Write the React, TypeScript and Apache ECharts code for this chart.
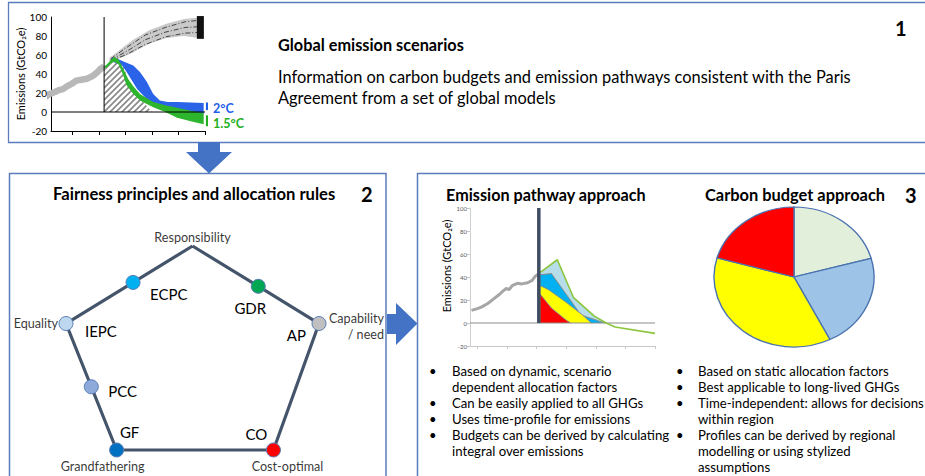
import React, { useEffect, useRef } from 'react';
import * as echarts from 'echarts';

const FONT = "Lato, 'Liberation Sans', sans-serif";

// ---------- Panel 1: global emission scenarios (year, GtCO2e) ----------
const globalHistory = [[1966, 13], [1970, 16], [1973, 19], [1977, 21], [1980, 23], [1983, 24], [1986, 27], [1990, 30], [1993, 33], [1997, 34], [2001, 35], [2004, 37], [2006, 38.5], [2009, 42], [2011, 45], [2014, 48]];
const baselineUpper = [[2018, 57], [2023, 62], [2030, 70], [2036, 76], [2048, 86], [2061, 93], [2074, 98], [2089, 100]];
const baselineLower = [[2018, 53], [2023, 55], [2030, 59], [2036, 63], [2048, 72], [2061, 78], [2074, 80], [2089, 77]];
const baselineRunA = [[2019, 56], [2030, 67], [2045, 81], [2060, 89], [2075, 95], [2089, 97]];
const baselineRunB = [[2019, 55], [2030, 63], [2045, 76], [2060, 84], [2075, 89], [2089, 90]];
const baselineRunC = [[2019, 54], [2030, 60], [2045, 71], [2060, 79], [2075, 83], [2089, 84]];
const baselineRange = [[2086.5, 77], [2086.5, 101]];
const path2CUpper = [[2020, 57], [2024, 56], [2029, 53], [2036, 49], [2041, 42], [2046, 32], [2051, 19], [2056, 12], [2062, 10.5], [2069, 10.5], [2089, 9.5]];
const path2CLower = [[2020, 53], [2027, 50], [2031, 42], [2039, 24], [2046, 14], [2054, 7], [2069, 1.7], [2080, -1], [2089, -2]];
const path15Upper = [[2012, 46], [2016, 50], [2020, 56], [2022, 58], [2025, 55], [2029, 44], [2032, 35], [2036, 27], [2041, 19], [2051, 10.5], [2060, 7], [2069, 4.5], [2080, 1], [2089, -1]];
const path15Lower = [[2012, 43], [2016, 47], [2020, 52], [2022, 53], [2025, 50], [2028, 40], [2031, 28], [2036, 19], [2041, 12], [2051, 5], [2060, 0], [2069, -6], [2080, -10], [2089, -13]];
const range2C = [[2092, 2], [2092, 10]];
const range15C = [[2092, -15], [2092, -3.5]];
const budgetHatch = [[2014, 0], [2014, 47], [2022, 55], [2028, 51], [2034, 26], [2050, 0]];
const todayYear1 = 2014;
const yTicks = { min: -20, max: 100, step: 20 };

// ---------- Panel 3a: emission pathway approach ----------
const pathHistory = [[1976, 11], [1980, 12.5], [1983, 14], [1987, 17], [1991, 21], [1995, 25], [1997, 27.5], [1999.5, 30], [2001.5, 29], [2003.5, 32.5], [2007, 34.5], [2010, 34], [2014, 35], [2017, 37], [2019, 40.5], [2021, 42.5]];
const pathGlobal = [[2022.5, 44], [2034, 55], [2045, 22], [2059, 6], [2067, 0], [2073, -3.5], [2100, -9]];
const pathGlobalPos = [[2022.5, 44], [2034, 55], [2045, 22], [2059, 6], [2067, 0]];
const pathRegionBlue = [[2022.5, 42], [2030, 43], [2040, 25], [2050, 7], [2066, 0]];
const pathRegionYellow = [[2022.5, 32.5], [2028, 29], [2040, 18], [2051, 7], [2057, 0]];
const pathRegionRed = [[2022.5, 25], [2030, 13], [2040, 2.5], [2043, 0]];
const todayYear3 = 2021.5;
const pathTickYears = [1980, 2000, 2020, 2040, 2060, 2080, 2100];
const scenTickYears = [1990, 2010, 2030, 2050, 2070, 2090];

// ---------- Panel 3b: carbon budget approach ----------
const budgetShares = [20.7, 21.9, 36.8, 20.6];
const budgetColors = ['#e2efda', '#9dc3e6', '#ffff00', '#ff0000'];

// ---------- Panel 2: fairness principles ----------
const principles = ['Responsibility', 'Capability\n/ need', 'Cost-optimal', 'Grandfathering', 'Equality'];
const principleXY = [[50, 100], [100, 62], [82, 0], [20, 0], [0, 62]];
const rules = ['ECPC', 'GDR', 'AP', 'CO', 'GF', 'PCC', 'IEPC'];
// [from principle, to principle, fraction along edge]
const ruleEdges = [[4, 0, 0.53], [0, 1, 0.52], [1, 2, 0], [2, 3, 0], [3, 4, 0], [4, 3, 0.5], [4, 0, 0]];

// ---------- texts ----------
const panel1Title = 'Global emission scenarios';
const panel1Text = ['Information on carbon budgets and emission pathways consistent with the Paris', 'Agreement from a set of global models'];
const panel2Title = 'Fairness principles and allocation rules';
const pathwayTitle = 'Emission pathway approach';
const budgetTitle = 'Carbon budget approach';
const yName = 'Emissions (GtCO₂e)';
const pathwayBullets = [
  ['Based on dynamic, scenario', 'dependent allocation factors'],
  ['Can be easily applied to all GHGs'],
  ['Uses time-profile for emissions'],
  ['Budgets can be derived by calculating', 'integral over emissions'],
];
const budgetBullets = [
  ['Based on static allocation factors'],
  ['Best applicable to long-lived GHGs'],
  ['Time-independent: allows for decisions', 'within region'],
  ['Profiles can be derived by regional', 'modelling or using stylized', 'assumptions'],
];

// ---------- styles ----------
const ruleStyle: Record<string, any> = {
  ECPC: { color: '#00b0f0', off: [17, 12], align: 'left' },
  GDR: { color: '#00a651', off: [-8, 22], align: 'center' },
  AP: { color: '#c0c0c0', off: [-13, 11], align: 'right' },
  CO: { color: '#ff0000', off: [-17, -16], align: 'center' },
  GF: { color: '#0070c0', off: [13, -18], align: 'center' },
  PCC: { color: '#8eaadb', off: [17, 4], align: 'left' },
  IEPC: { color: '#bdd7ee', off: [19, 7], align: 'left' },
};
const principleStyle = [
  { off: [0, -9], align: 'center' },
  { off: [65, 3], align: 'right' },
  { off: [14, 16], align: 'center' },
  { off: [-14, 16], align: 'center' },
  { off: [-8, 0], align: 'right' },
];

function hatchPattern() {
  const s = 6;
  const c = document.createElement('canvas');
  c.width = s; c.height = s;
  const g = c.getContext('2d')!;
  g.fillStyle = '#ffffff';
  g.fillRect(0, 0, s, s);
  g.strokeStyle = '#8a8a8a';
  g.lineWidth = 1.7;
  g.beginPath();
  g.moveTo(0, s); g.lineTo(s, 0);
  g.moveTo(-s / 2, s / 2); g.lineTo(s / 2, -s / 2);
  g.moveTo(s / 2, s * 1.5); g.lineTo(s * 1.5, s / 2);
  g.stroke();
  return { image: c, repeat: 'repeat' };
}

function band(upper: number[][], lower: number[][], fill: any, axis: number, z: number) {
  return {
    type: 'custom', coordinateSystem: 'cartesian2d', xAxisIndex: axis, yAxisIndex: axis,
    silent: true, clip: false, z, data: [upper[0]],
    renderItem: (_p: any, api: any) => ({
      type: 'polygon',
      shape: { points: upper.map((p) => api.coord(p)).concat(lower.slice().reverse().map((p) => api.coord(p))) },
      style: { fill, stroke: null },
    }),
  };
}

function line(data: number[][], axis: number, color: string, width: number, z: number, extra: any = {}) {
  return {
    type: 'line', xAxisIndex: axis, yAxisIndex: axis, data, symbol: 'none', silent: true, clip: false, z,
    lineStyle: { color, width, ...(extra.lineStyle || {}) }, ...extra.rest,
  };
}

function buildOption() {
  const ruleXY = ruleEdges.map(([a, b, t]) => {
    const A = principleXY[a], B = principleXY[b];
    return [A[0] + (B[0] - A[0]) * t, A[1] + (B[1] - A[1]) * t];
  });
  const total = budgetShares.reduce((s, v) => s + v, 0);
  const border = '#5b7cbd';
  const graphic: any[] = [
    { type: 'rect', shape: { x: 8.5, y: 2.5, width: 940, height: 140 }, style: { fill: 'none', stroke: border, lineWidth: 1.3 }, silent: true },
    { type: 'rect', shape: { x: 9.5, y: 173.5, width: 376.5, height: 340 }, style: { fill: 'none', stroke: border, lineWidth: 1.5 }, silent: true },
    { type: 'rect', shape: { x: 417.5, y: 173.5, width: 540, height: 340 }, style: { fill: 'none', stroke: border, lineWidth: 1.5 }, silent: true },
    { type: 'polygon', z: 50, shape: { points: [[198, 142], [220, 142], [220, 152], [232, 152], [209, 173.5], [186, 152], [198, 152]] }, style: { fill: '#4472c4' }, silent: true },
    { type: 'polygon', z: 50, shape: { points: [[387, 314], [396, 314], [396, 303], [417.5, 323.5], [396, 345], [396, 334], [387, 334]] }, style: { fill: '#4472c4' }, silent: true },
  ];
  const txt = (text: string, x: number, y: number, size: number, opts: any = {}) => ({
    type: 'text', x, y, silent: true, z: 60, rotation: opts.rotation || 0,
    style: { text, fontSize: size, fontFamily: FONT, fontWeight: opts.bold ? 'bold' : 'normal', fill: opts.color || '#000', align: opts.align || 'left', verticalAlign: 'middle' },
  });
  graphic.push(txt(panel1Title, 278, 44, 16.3, { bold: true }));
  panel1Text.forEach((t, i) => graphic.push(txt(t, 278, 76 + i * 21, 16.4)));
  graphic.push(txt('1', 895, 28, 20, { bold: true }));
  graphic.push(txt('2°C', 213, 108, 12.5, { bold: true, color: '#1f5fe8' }));
  graphic.push(txt('1.5°C', 213, 123, 12.5, { bold: true, color: '#22b022' }));
  graphic.push(txt(panel2Title, 53, 194, 16.6, { bold: true }));
  graphic.push(txt('2', 361, 194, 20, { bold: true }));
  graphic.push(txt(pathwayTitle, 446, 194, 16.2, { bold: true }));
  graphic.push(txt(budgetTitle, 705, 194, 16.4, { bold: true }));
  graphic.push(txt('3', 905, 195, 20, { bold: true }));
  graphic.push(txt(yName, 446, 266, 11, { align: 'center', rotation: Math.PI / 2 }));
  const bulletBlock = (list: string[][], bx: number, tx: number) => {
    let row = 0;
    list.forEach((lines) => {
      graphic.push(txt('•', bx, 371 + row * 16, 13));
      lines.forEach((l) => { graphic.push(txt(l, tx, 371 + row * 16, 13.2)); row++; });
    });
  };
  bulletBlock(pathwayBullets, 429, 452);
  bulletBlock(budgetBullets, 676, 698);

  const axisFont = { fontFamily: FONT };
  const hatch = hatchPattern();

  return {
    animation: false,
    backgroundColor: '#ffffff',
    graphic,
    grid: [
      { left: 51, top: 17, width: 154, height: 114 },
      { left: 470, top: 208, width: 185, height: 138 },
      { left: 66, top: 246, width: 253, height: 204 },
    ],
    xAxis: [
      { gridIndex: 0, type: 'value', min: 1974, max: 2090, splitLine: { show: false }, axisLabel: { show: false },
        axisLine: { show: true, onZero: false, lineStyle: { color: '#000', width: 1 } },
        axisTick: { show: true, inside: false, length: 4, customValues: scenTickYears, lineStyle: { color: '#000' } } },
      { gridIndex: 1, type: 'value', min: 1975, max: 2100, splitLine: { show: false }, axisLabel: { show: false },
        axisLine: { show: true, onZero: false, lineStyle: { color: '#c8c8c8', width: 1 } },
        axisTick: { show: true, length: 3, customValues: pathTickYears, lineStyle: { color: '#c8c8c8' } } },
      { gridIndex: 2, type: 'value', min: 0, max: 100, show: false },
    ],
    yAxis: [
      { gridIndex: 0, type: 'value', min: yTicks.min, max: yTicks.max, interval: yTicks.step, splitLine: { show: false },
        axisLine: { show: true, lineStyle: { color: '#000', width: 1 } }, axisTick: { show: false },
        axisLabel: { fontSize: 10, color: '#000', margin: 4, ...axisFont },
        name: yName, nameLocation: 'middle', nameGap: 23, nameRotate: 90, nameTextStyle: { fontSize: 11, color: '#000', ...axisFont } },
      { gridIndex: 1, type: 'value', min: yTicks.min, max: yTicks.max, interval: yTicks.step, splitLine: { show: false },
        axisLine: { show: true, lineStyle: { color: '#d0d0d0', width: 1 } }, axisTick: { show: true, length: 3, lineStyle: { color: '#c8c8c8' } },
        axisLabel: { fontSize: 6, color: '#595959', margin: 3, ...axisFont } },
      { gridIndex: 2, type: 'value', min: 0, max: 100, show: false },
    ],
    series: [
      // panel 1
      band(baselineUpper, baselineLower, '#c9c9c9', 0, 1),
      line(baselineRunA, 0, '#222', 0.8, 2, { lineStyle: { type: [5, 2, 1, 2] } }),
      line(baselineRunB, 0, '#222', 0.8, 2, { lineStyle: { type: [5, 2, 1, 2] } }),
      line(baselineRunC, 0, '#222', 0.8, 2, { lineStyle: { type: [5, 2, 1, 2] } }),
      band(budgetHatch, [], hatch, 0, 2),
      band(path2CUpper, path2CLower, '#2a63e8', 0, 3),
      band(path15Upper, path15Lower, '#2db52d', 0, 4),
      line(globalHistory, 0, '#b8b8b8', 6.5, 5),
      line([[1974, 0], [2090, 0]], 0, '#000', 1, 6),
      line([[todayYear1, 0], [todayYear1, 100]], 0, '#000', 1, 6),
      line(baselineRange, 0, '#111', 7, 6),
      line(range2C, 0, '#1f5fe8', 3.5, 6),
      line(range15C, 0, '#22b022', 3.5, 6),
      // panel 3a
      line(pathGlobalPos, 1, '#b7dde8', 0, 1, { rest: { areaStyle: { color: '#b7dde8', opacity: 1 } } }),
      line(pathRegionBlue, 1, '#8c8c8c', 1, 2, { rest: { areaStyle: { color: '#00b0f0', opacity: 1 } } }),
      line(pathRegionYellow, 1, '#8c8c8c', 1, 3, { rest: { areaStyle: { color: '#ffff00', opacity: 1 } } }),
      line(pathRegionRed, 1, '#8c8c8c', 1, 4, { rest: { areaStyle: { color: '#ff0000', opacity: 1 } } }),
      line([[1975, 0], [2100, 0]], 1, '#8c8c8c', 1, 5),
      line(pathGlobal, 1, '#8cc63f', 1.6, 6),
      line(pathHistory, 1, '#a6a6a6', 3, 6),
      line([[todayYear3, 0], [todayYear3, 100]], 1, '#3f4d63', 3.5, 7),
      // panel 3b pie (ellipse)
      {
        type: 'custom', coordinateSystem: 'none', silent: true, z: 5, data: budgetShares,
        renderItem: (params: any, api: any) => {
          const i = params.dataIndex;
          let before = 0;
          for (let k = 0; k < i; k++) before += budgetShares[k];
          const a0 = -Math.PI / 2 + (before / total) * Math.PI * 2;
          const a1 = a0 + (api.value(0) / total) * Math.PI * 2;
          return {
            type: 'sector', x: 794, y: 277, scaleY: 70 / 80,
            shape: { cx: 0, cy: 0, r: 80, r0: 0, startAngle: a0, endAngle: a1, clockwise: true },
            style: { fill: budgetColors[i], stroke: '#4a72b0', lineWidth: 1.4 },
          };
        },
      },
      // panel 2 pentagon
      line(principleXY.concat([principleXY[0]]), 2, '#44546a', 3.2, 3),
      {
        type: 'scatter', xAxisIndex: 2, yAxisIndex: 2, silent: true, z: 4, symbolSize: 0,
        data: principles.map((p, i) => ({
          value: principleXY[i], name: p,
          label: { show: true, formatter: p, position: 'inside', offset: principleStyle[i].off, align: principleStyle[i].align, verticalAlign: 'middle', fontSize: 12.6, lineHeight: 16, color: '#000', fontFamily: FONT },
        })),
      },
      {
        type: 'scatter', xAxisIndex: 2, yAxisIndex: 2, silent: true, z: 5, symbolSize: 14,
        data: rules.map((r, i) => ({
          value: ruleXY[i], name: r,
          itemStyle: { color: ruleStyle[r].color, borderColor: '#5a7db5', borderWidth: 1, opacity: 1 },
          label: { show: true, formatter: r, position: 'inside', offset: ruleStyle[r].off, align: ruleStyle[r].align, verticalAlign: 'middle', fontSize: 15, color: '#000', fontFamily: FONT },
        })),
      },
    ],
  };
}

export default function App() {
  const ref = useRef<HTMLDivElement>(null);
  useEffect(() => {
    document.body.style.margin = '0';
    const chart = echarts.init(ref.current!, null, { renderer: 'svg' });
    chart.setOption(buildOption() as any);
    return () => chart.dispose();
  }, []);
  return <div ref={ref} style={{ position: 'fixed', left: 0, top: 0, width: 925, height: 476, background: '#fff' }} />;
}
